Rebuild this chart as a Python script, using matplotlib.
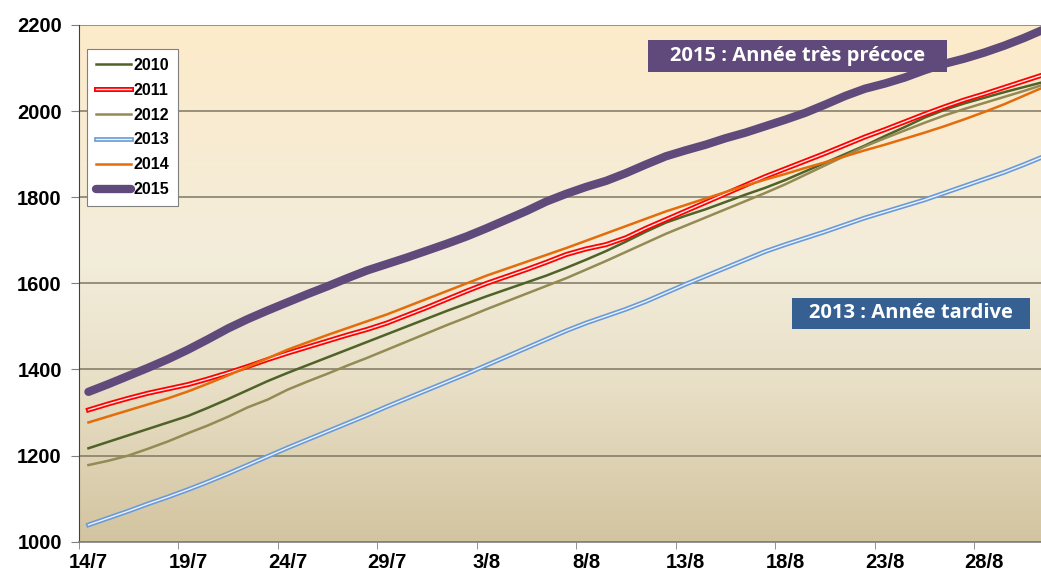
import numpy as np
import matplotlib.pyplot as plt
import matplotlib.patheffects as pe
from matplotlib.colors import LinearSegmentedColormap
from matplotlib.patches import Rectangle

# jours du 14/7 au 31/8
labels = ["14/7", "19/7", "24/7", "29/7", "3/8", "8/8", "13/8", "18/8", "23/8", "28/8"]
days = np.arange(49)

y2010 = [1217, 1232, 1247, 1262, 1277, 1292, 1311, 1331, 1352, 1373,
         1392, 1410, 1428, 1446, 1464, 1482, 1500, 1518, 1536, 1553,
         1570, 1586, 1602, 1618, 1636, 1655, 1675, 1697, 1720, 1741,
         1757, 1772, 1789, 1806, 1822, 1840, 1860, 1880, 1900, 1920,
         1942, 1963, 1985, 2003, 2018, 2031, 2044, 2056, 2068]
y2011 = [1306, 1320, 1333, 1345, 1355, 1365, 1378, 1392, 1407, 1423,
         1438, 1452, 1466, 1480, 1493, 1508, 1526, 1544, 1563, 1582,
         1600, 1616, 1632, 1649, 1667, 1680, 1690, 1706, 1728, 1748,
         1768, 1788, 1808, 1828, 1848, 1866, 1884, 1902, 1921, 1940,
         1957, 1975, 1993, 2010, 2026, 2040, 2055, 2070, 2085]
y2012 = [1178, 1188, 1200, 1216, 1233, 1252, 1270, 1290, 1312, 1330,
         1353, 1372, 1390, 1409, 1427, 1446, 1465, 1484, 1503, 1521,
         1540, 1558, 1576, 1594, 1612, 1632, 1652, 1673, 1694, 1715,
         1734, 1753, 1772, 1791, 1810, 1830, 1852, 1874, 1896, 1918,
         1937, 1955, 1973, 1990, 2005, 2019, 2033, 2047, 2062]
y2013 = [1039, 1055, 1071, 1088, 1104, 1121, 1139, 1158, 1178, 1198,
         1218, 1237, 1256, 1275, 1294, 1314, 1333, 1352, 1371, 1390,
         1410, 1430, 1450, 1470, 1490, 1508, 1524, 1540, 1558, 1578,
         1598, 1617, 1636, 1655, 1674, 1690, 1705, 1720, 1736, 1752,
         1766, 1780, 1794, 1810, 1826, 1842, 1858, 1876, 1895]
y2014 = [1277, 1291, 1305, 1319, 1333, 1349, 1367, 1386, 1406, 1426,
         1446, 1463, 1480, 1496, 1512, 1528, 1546, 1564, 1582, 1600,
         1618, 1634, 1650, 1666, 1682, 1699, 1716, 1733, 1750, 1767,
         1782, 1797, 1812, 1827, 1841, 1854, 1868, 1881, 1895, 1909,
         1922, 1936, 1950, 1965, 1981, 1998, 2016, 2036, 2056]
y2015 = [1348, 1366, 1385, 1404, 1424, 1446, 1470, 1495, 1517, 1537,
         1556, 1575, 1593, 1612, 1630, 1645, 1660, 1676, 1692, 1709,
         1728, 1748, 1768, 1790, 1808, 1824, 1838, 1856, 1876, 1895,
         1909, 1922, 1937, 1950, 1965, 1980, 1996, 2015, 2035, 2052,
         2064, 2078, 2095, 2110, 2122, 2136, 2152, 2170, 2190]

plt.rcParams['font.family'] = ['Liberation Sans', 'DejaVu Sans']

fig = plt.figure(figsize=(10.41, 5.70), dpi=100)
W, H = 1041, 570
ax = fig.add_axes([78.5 / W, 28.3 / H, (1054 - 78.5) / W, (541.7 - 25) / H])

# fond dégradé
cmap = LinearSegmentedColormap.from_list(
    "fond", [(0.0, "#d3c4a0"), (0.3, "#e8dfc6"), (0.55, "#f3eddb"), (1.0, "#fdebca")])
grad = np.linspace(0, 1, 256).reshape(-1, 1)
ax.imshow(grad, cmap=cmap, origin="lower", aspect="auto",
          extent=[0, 1, 0, 1], transform=ax.transAxes, zorder=0)

ax.plot(days, y2010, color="#4f6228", lw=1.8, label="2010", zorder=3)
ax.plot(days, y2011, color="#ffe6e6", lw=1.0, label="2011", zorder=3,
        path_effects=[pe.Stroke(linewidth=3.6, foreground="#ff0000"), pe.Normal()])
ax.plot(days, y2012, color="#948a54", lw=1.8, label="2012", zorder=3)
ax.plot(days, y2013, color="#eef3fa", lw=1.0, label="2013", zorder=3,
        path_effects=[pe.Stroke(linewidth=3.4, foreground="#6a9bd8"), pe.Normal()])
ax.plot(days, y2014, color="#e46c0a", lw=1.8, label="2014", zorder=3)
ax.plot(days, y2015, color="#604a7b", lw=6.0, label="2015", zorder=4,
        solid_capstyle="round")

ax.set_xlim(-0.5, 48.5)
ax.set_ylim(1000, 2200)
ax.set_yticks(np.arange(1000, 2201, 200))
ax.set_xticks(days[::5])
ax.set_xticklabels(labels)
ax.set_xticks(np.arange(-0.5, 48, 5), minor=True)
ax.tick_params(axis="x", which="major", length=0, pad=8)
ax.tick_params(axis="x", which="minor", length=5, color="#808080")
ax.tick_params(axis="y", length=6, color="#808080", pad=6)
for t in ax.get_xticklabels() + ax.get_yticklabels():
    t.set_fontsize(14.5)
    t.set_fontweight("bold")

ax.yaxis.grid(True, color="#7f7766", lw=1.1, zorder=1)
ax.set_axisbelow(True)
for s in ["top", "right"]:
    ax.spines[s].set_visible(False)
ax.spines["left"].set_color("#404040")
ax.spines["bottom"].set_color("#808080")
ax.spines["bottom"].set_linewidth(1.2)

leg = ax.legend(loc="upper left", bbox_to_anchor=(0.0087, 0.9536), borderaxespad=0,
                fancybox=False, edgecolor="#808080", framealpha=1,
                prop={"weight": "bold", "size": 11.5}, handlelength=2.2,
                handletextpad=0.15, labelspacing=0.62, borderpad=0.55)
leg.get_frame().set_linewidth(0.8)

# étiquettes encadrées (coordonnées en pixels de la figure)
boxes = [("2015 : Année très précoce", 648, 40, 947, 72, "#604a7b"),
         ("2013 : Année tardive", 792, 298, 1030, 329, "#366092")]
for txt, x0, y0, x1, y1, col in boxes:
    fig.patches.append(Rectangle((x0 / W, 1 - y1 / H), (x1 - x0) / W, (y1 - y0) / H,
                                 transform=fig.transFigure, fc=col, ec="none", zorder=6))
    fig.text((x0 + x1) / 2 / W, 1 - (y0 + y1) / 2 / H, txt, ha="center", va="center",
             fontsize=14.5, fontweight="bold", color="white", family="Open Sans", zorder=7)

fig.savefig("out.png", dpi=100)
